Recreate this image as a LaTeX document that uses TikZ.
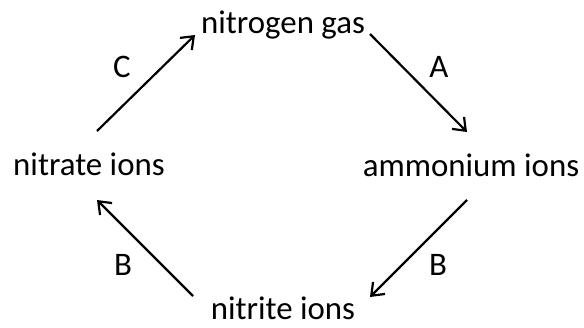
\documentclass[tikz,border=0pt]{standalone}
\usepackage{fontspec}
\setmainfont{Carlito}
\usetikzlibrary{arrows.meta}

\begin{document}
\begin{tikzpicture}[x=1bp,y=-1bp,
    every node/.style={font=\fontsize{33}{35}\selectfont, inner sep=0pt},
    cmpd/.style={anchor=base},
    arr/.style={line width=2.2bp, -{Straight Barb[length=11bp,width=17bp,line width=2.2bp]}}]

    \useasboundingbox (0,0) rectangle (584,327);

    % the four compounds
    \node[cmpd] (ngas) at (283,33) {nitrogen gas};
    \node[cmpd] (amm) at (471,176) {ammonium ions};
    \node[cmpd] (nitri) at (283,319) {nitrite ions};
    \node[cmpd] (nitra) at (89,175) {nitrate ions};

    % arrow ends
    \coordinate (a1) at (370,34);
    \coordinate (a2) at (467,132);
    \coordinate (b1) at (467,200);
    \coordinate (b2) at (370,297);
    \coordinate (b3) at (193,296);
    \coordinate (b4) at (97,200);
    \coordinate (c1) at (97,131);
    \coordinate (c2) at (195,35);

    \draw[arr] (a1) -- (a2);
    \draw[arr] (b1) -- (b2);
    \draw[arr] (b3) -- (b4);
    \draw[arr] (c1) -- (c2);

    % step labels
    \node (labA) at (439,67) {A};
    \node (labB1) at (438,265) {B};
    \node (labB2) at (123,265) {B};
    \node (labC) at (122,67) {C};

\end{tikzpicture}
\end{document}
